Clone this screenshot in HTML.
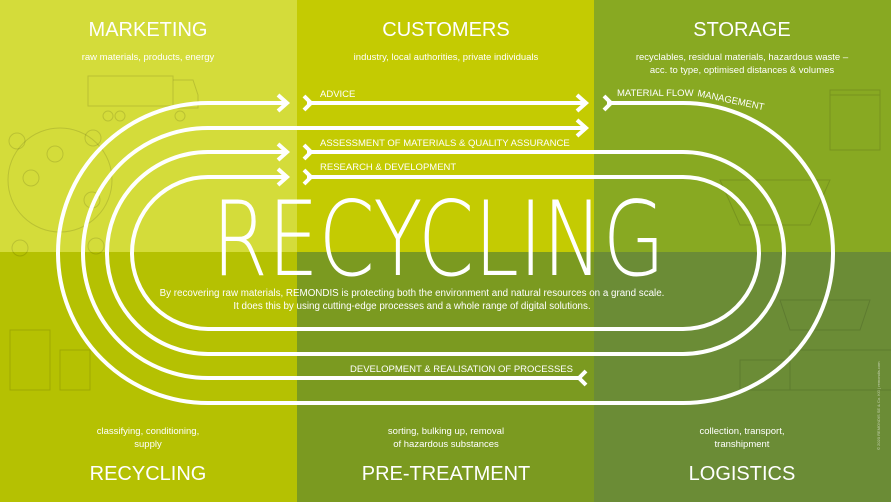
<!DOCTYPE html>
<html><head><meta charset="utf-8"><style>
html,body{margin:0;padding:0;width:891px;height:502px;overflow:hidden}
svg{display:block}
text{font-family:"Liberation Sans",sans-serif;fill:#fff}
</style></head><body>
<svg width="891" height="502" viewBox="0 0 891 502" xmlns="http://www.w3.org/2000/svg">
<rect x="0" y="0" width="297" height="252" fill="#d4dc3a"/>
<rect x="297" y="0" width="297" height="252" fill="#c4cb02"/>
<rect x="594" y="0" width="297" height="252" fill="#88a922"/>
<rect x="0" y="252" width="297" height="250" fill="#b5c102"/>
<rect x="297" y="252" width="297" height="250" fill="#7b9a20"/>
<rect x="594" y="252" width="297" height="250" fill="#6b8c36"/>

<!-- faint decorative icons -->
<g fill="none" stroke="#000" stroke-opacity="0.12" stroke-width="1">
<rect x="88" y="76" width="85" height="30"/><path d="M173 80h20l5 15v13h-25"/>
<circle cx="108" cy="116" r="5"/><circle cx="120" cy="116" r="5"/><circle cx="180" cy="116" r="5"/>
<circle cx="60" cy="180" r="52"/><circle cx="17" cy="141" r="8"/><circle cx="93" cy="138" r="8"/><circle cx="55" cy="154" r="8"/><circle cx="31" cy="178" r="8"/><circle cx="92" cy="200" r="8"/><circle cx="20" cy="248" r="8"/><circle cx="96" cy="246" r="8"/>
<path d="M830 90h50v60h-50z M830 95h50"/><path d="M720 180h110l-20 45h-70z"/>
<path d="M790 350h110v40h-110z M740 360h50v30h-50z"/><path d="M780 300h90l-10 30h-70z"/>
<path d="M10 330v60h40v-60z M60 350v40h30v-40z"/>
</g>

<!-- headers -->
<g text-anchor="middle">
<text x="148" y="36" font-size="20">MARKETING</text>
<text x="446" y="36" font-size="20">CUSTOMERS</text>
<text x="742" y="36" font-size="20">STORAGE</text>
<text x="148" y="60" font-size="9.5">raw materials, products, energy</text>
<text x="446" y="60" font-size="9.5">industry, local authorities, private individuals</text>
<text x="742" y="60" font-size="9.5">recyclables, residual materials, hazardous waste –</text>
<text x="742" y="73" font-size="9.5">acc. to type, optimised distances &amp; volumes</text>
<text x="148" y="434" font-size="9.5">classifying, conditioning,</text>
<text x="148" y="447" font-size="9.5">supply</text>
<text x="446" y="434" font-size="9.5">sorting, bulking up, removal</text>
<text x="446" y="447" font-size="9.5">of hazardous substances</text>
<text x="742" y="434" font-size="9.5">collection, transport,</text>
<text x="742" y="447" font-size="9.5">transhipment</text>
<text x="148" y="480" font-size="20">RECYCLING</text>
<text x="446" y="480" font-size="20">PRE-TREATMENT</text>
<text x="742" y="480" font-size="20">LOGISTICS</text>
</g>

<!-- loops -->
<g fill="none" stroke="#fff" stroke-width="4" stroke-linecap="butt" stroke-linejoin="miter">
<!-- outer r=150 -->
<path d="M284 103 H208 A150 150 0 0 0 208 403 H683 A150 150 0 0 0 683 103 H607"/>
<path d="M307 103 H584"/>
<!-- r=125 -->
<path d="M584 128 H208 A125 125 0 0 0 208 378 H582"/>
<!-- r=101 -->
<path d="M284 152 H208 A101 101 0 0 0 208 354 H683 A101 101 0 0 0 683 152 H307"/>
<!-- r=76 -->
<path d="M284 177 H208 A76 76 0 0 0 208 329 H683 A76 76 0 0 0 683 177 H307"/>
<!-- arrowheads -->
<path d="M278 95 L287 103 L278 111 M278 144 L287 152 L278 160 M278 169 L287 177 L278 185"/>
<path d="M577 95 L586 103 L577 111 M577 120 L586 128 L577 136"/>
<path d="M304 96 L311 103 L304 110 M304 145 L311 152 L304 159 M304 170 L311 177 L304 184 M604 96 L611 103 L604 110"/>
<path d="M586 371 L579 378 L586 385"/>
</g>

<g font-size="9.5">
<text x="320" y="97">ADVICE</text>
<text x="320" y="146">ASSESSMENT OF MATERIALS &amp; QUALITY ASSURANCE</text>
<text x="320" y="170">RESEARCH &amp; DEVELOPMENT</text>
<text x="350" y="372">DEVELOPMENT &amp; REALISATION OF PROCESSES</text>
<text x="617" y="96">MATERIAL FLOW </text>
<text x="697" y="96" transform="rotate(12 697 96)">MANAGEMENT</text>
</g>

<text x="212" y="275" font-size="103" font-family="'DejaVu Sans','Liberation Sans',sans-serif" font-weight="200" textLength="453" lengthAdjust="spacingAndGlyphs" style="font-family:'DejaVu Sans ExtraLight','DejaVu Sans','Liberation Sans',sans-serif">RECYCLING</text>

<g text-anchor="middle" font-size="9.8">
<text x="412" y="296">By recovering raw materials, REMONDIS is protecting both the environment and natural resources on a grand scale.</text>
<text x="412" y="309">It does this by using cutting-edge processes and a whole range of digital solutions.</text>
</g>
<text x="880" y="450" font-size="4" fill-opacity="0.6" transform="rotate(-90 880 450)">© 2020 REMONDIS SE &amp; Co. KG | remondis.com</text>
</svg>
</body></html>
